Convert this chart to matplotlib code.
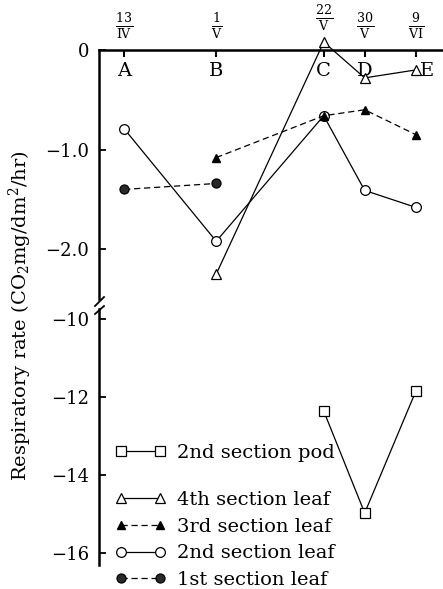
import matplotlib
matplotlib.use("Agg")
import matplotlib.pyplot as plt
from matplotlib.lines import Line2D

plt.rcParams['font.family'] = ['DejaVu Serif']
plt.rcParams['mathtext.fontset'] = 'dejavuserif'

# Sampling dates (days after 13 April) and their labels
days = [0, 18, 39, 47, 57]
letters = ['A', 'B', 'C', 'D', 'E']
date_labels = [r'$\frac{13}{\mathrm{IV}}$', r'$\frac{1}{\mathrm{V}}$', r'$\frac{22}{\mathrm{V}}$',
               r'$\frac{30}{\mathrm{V}}$', r'$\frac{9}{\mathrm{VI}}$']

# Respiratory rates (CO2 mg/dm2/hr)
leaf4_days = [18, 39, 47, 57]
leaf4 = [-2.25, 0.08, -0.28, -0.20]
leaf3_days = [18, 39, 47, 57]
leaf3 = [-1.08, -0.66, -0.60, -0.85]
leaf2_days = [0, 18, 39, 47, 57]
leaf2 = [-0.79, -1.92, -0.66, -1.41, -1.58]
leaf1_days = [0, 18]
leaf1 = [-1.40, -1.34]
pod_days = [39, 47, 57]
pod = [-12.36, -14.97, -11.85]

upper_ticks = [0, -1.0, -2.0]
upper_ticklabels = ['0', '\u22121.0', '\u22122.0']
lower_ticks = [-10, -12, -14, -16]
lower_ticklabels = ['\u221210', '\u221212', '\u221214', '\u221216']

W, H = 443, 589
fig = plt.figure(figsize=(W / 100, H / 100), dpi=100)

def frac_box(x0, y0, x1, y1):
    return [x0 / W, 1 - y1 / H, (x1 - x0) / W, (y1 - y0) / H]

xlim = (-4.9, 62.3)
ax_top = fig.add_axes(frac_box(99, 50, 443, 299))
ax_bot = fig.add_axes(frac_box(99, 309, 443, 565))

for ax in (ax_top, ax_bot):
    ax.set_xlim(*xlim)
    ax.patch.set_alpha(0)
    for s in ('right', 'bottom'):
        ax.spines[s].set_visible(False)
    ax.spines['left'].set_linewidth(1.8)
    ax.tick_params(axis='y', direction='in', length=5, width=1.3, labelsize=13, pad=7)

ax_top.set_ylim(-2.5, 0)
ax_bot.set_ylim(-16.3, -9.75)
ax_bot.spines['top'].set_visible(False)
ax_top.spines['top'].set_linewidth(1.8)

ax_top.set_yticks(upper_ticks, upper_ticklabels)
ax_bot.set_yticks(lower_ticks, lower_ticklabels)
ax_bot.set_xticks([])

ax_top.xaxis.tick_top()
ax_top.set_xticks(days, [''] * len(days))
ax_top.tick_params(axis='x', direction='in', length=5, width=1.5)

# date fractions above and section letters below the zero line
frac_off = [9, 9, 17, 9, 9]
letter_dx = [0, 0, 0, 0, 11]
for d, lab, fo, dx, let in zip(days, date_labels, frac_off, letter_dx, letters):
    ax_top.annotate(lab, (d, 0), xytext=(0, fo), textcoords='offset pixels',
                    ha='center', va='bottom', fontsize=13, annotation_clip=False)
    ax_top.annotate(let, (d, 0), xytext=(dx, -12), textcoords='offset pixels',
                    ha='center', va='top', fontsize=14, annotation_clip=False)

lw = 0.9
ms = 6.5
l4, = ax_top.plot(leaf4_days, leaf4, '-', color='black', lw=lw, marker='^', ms=ms,
                  mfc='white', mec='black', mew=0.9, clip_on=False, zorder=3)
l2, = ax_top.plot(leaf2_days, leaf2, '-', color='black', lw=lw, marker='o', ms=ms + 0.5,
                  mfc='white', mec='black', mew=0.9, clip_on=False, zorder=3)
l3, = ax_top.plot(leaf3_days, leaf3, '--', color='black', lw=lw, dashes=(5, 3), marker='^',
                  ms=ms - 0.5, mfc='black', mec='black', clip_on=False, zorder=4)
l1, = ax_top.plot(leaf1_days, leaf1, '--', color='black', lw=lw, dashes=(5, 3), marker='o',
                  ms=ms, mfc='#2a2a2a', mec='black', mew=0.9, clip_on=False, zorder=3)
lp, = ax_bot.plot(pod_days, pod, '-', color='black', lw=lw, marker='s', ms=ms,
                  mfc='white', mec='black', mew=0.9, clip_on=False, zorder=3)

# axis break marks
for (x0, y0, x1, y1) in [(95, 306, 104, 297), (95, 314, 104, 306)]:
    fig.add_artist(Line2D([x0 / W, x1 / W], [1 - y0 / H, 1 - y1 / H],
                          transform=fig.transFigure, color='black', lw=1.3))

fig.text(20 / W, 1 - 316 / H, r'Respiratory rate (CO$_2$mg/dm$^2$/hr)', rotation=90,
         ha='center', va='center', fontsize=14)

leg_kw = dict(frameon=False, fontsize=14, handlelength=2.6, handletextpad=0.6,
              numpoints=2, borderpad=0, borderaxespad=0, labelspacing=0.45)
leg1 = ax_bot.legend([lp], ['2nd section pod'], loc='upper left',
                     bbox_to_anchor=(115 / W, 1 - 444 / H), bbox_transform=fig.transFigure, **leg_kw)
ax_bot.add_artist(leg1)
ax_bot.legend([l4, l3, l2, l1],
              ['4th section leaf', '3rd section leaf', '2nd section leaf', '1st section leaf'],
              loc='upper left', bbox_to_anchor=(115 / W, 1 - 491 / H),
              bbox_transform=fig.transFigure, **leg_kw)

fig.savefig('out.png', dpi=100)
